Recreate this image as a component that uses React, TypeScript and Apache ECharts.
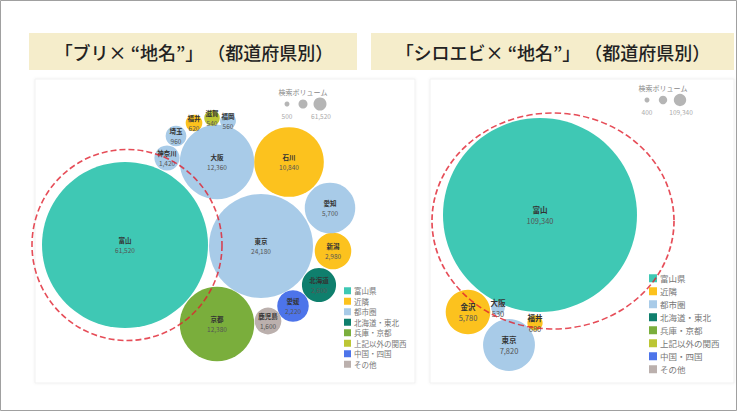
import React, { useEffect, useRef } from "react";
import * as echarts from "echarts";

// ---- data ----
const CATEGORIES = ["富山県", "近隣", "都市圏", "北海道・東北", "兵庫・京都", "上記以外の関西", "中国・四国", "その他"];

const BURI_NAMES = ["富山", "東京", "京都", "大阪", "石川", "愛知", "新潟", "北海道", "愛媛", "鹿児島", "神奈川", "埼玉", "福井", "滋賀", "福岡"];
const BURI_VALUES = [61520, 24180, 12380, 12360, 10840, 5700, 2980, 2600, 2220, 1600, 1420, 960, 620, 540, 560];
const BURI_GROUPS = ["富山県", "都市圏", "兵庫・京都", "都市圏", "近隣", "都市圏", "近隣", "北海道・東北", "中国・四国", "その他", "都市圏", "都市圏", "近隣", "上記以外の関西", "都市圏"];

const SHIRO_NAMES = ["富山", "東京", "金沢", "大阪", "福井"];
const SHIRO_VALUES = [109340, 7820, 5780, 530, 680];
const SHIRO_GROUPS = ["富山県", "都市圏", "近隣", "都市圏", "近隣"];

const BURI_LEGEND_TICKS = ["500", "61,520"];
const SHIRO_LEGEND_TICKS = ["400", "109,340"];

// ---- layout (bubble-pack positions in each panel's own units) ----
const BURI_POS = [
  [90, 165], [226, 166], [182, 244], [182, 82], [254, 82], [295, 128], [298, 171], [284, 205],
  [258, 226], [233, 241], [132, 78], [141, 56], [159, 43], [177, 38], [193, 41],
];
const SHIRO_POS = [[110, 135], [79, 265], [38, 232], [68, 228], [105, 243]];

// ---- styles ----
const COLORS: Record<string, string> = {
  "富山県": "#3fc8b4",
  "近隣": "#fcc21e",
  "都市圏": "#a8cbe8",
  "北海道・東北": "#0f7f6d",
  "兵庫・京都": "#7aae3c",
  "上記以外の関西": "#bcc634",
  "中国・四国": "#4d74ea",
  "その他": "#bbb0ad",
};
const FONT = "'Noto Sans CJK JP', 'Noto Sans', sans-serif";

function fmt(v: number) {
  return v.toLocaleString("en-US");
}

export default function App() {
  const ref = useRef<HTMLDivElement>(null);
  useEffect(() => {
    if (!ref.current) return;
    const chart = echarts.init(ref.current, undefined, { renderer: "svg" });

    const buriMax = Math.max(...BURI_VALUES);
    const shiroMax = Math.max(...SHIRO_VALUES);

    const makeSeries = (
      names: string[], values: number[], groups: string[], pos: number[][],
      idx: number, rMax: number, vMax: number, fs: number
    ) =>
      CATEGORIES.filter((c) => groups.includes(c)).map((cat) => ({
        name: cat,
        type: "scatter",
        xAxisIndex: idx,
        yAxisIndex: idx,
        z: 3,
        symbol: "circle",
        symbolSize: (val: number[]) => 2 * rMax * Math.sqrt(val[2] / vMax),
        itemStyle: { color: COLORS[cat], opacity: 1 },
        emphasis: { disabled: true },
        label: {
          show: true,
          position: "inside",
          formatter: (p: any) => `{n|${p.name}}\n{v|${fmt(p.value[2])}}`,
          rich: {
            n: { fontSize: fs, color: "#333", fontFamily: FONT, lineHeight: fs + 3, fontWeight: "bold" },
            v: { fontSize: fs, color: "#555", fontFamily: FONT, lineHeight: fs + 3 },
          },
        },
        data: names
          .map((n, i) => ({ name: n, value: [pos[i][0], pos[i][1], values[i]], g: groups[i] }))
          .filter((d) => d.g === cat)
          .map(({ name, value }) => ({ name, value })),
      }));

    const ring = (idx: number, center: number[], size: number[]) => ({
      name: "highlight" + idx,
      type: "scatter",
      xAxisIndex: idx,
      yAxisIndex: idx,
      z: 5,
      silent: true,
      symbol: "circle",
      symbolSize: size,
      itemStyle: { color: "rgba(0,0,0,0)", borderColor: "#e0202e", borderWidth: 1.6, borderType: [6, 3] },
      label: { show: false },
      data: [center],
    });

    const sizeLegend = (cx: number, cy: number, r: number[], ticks: string[]) => [
      { type: "text", x: cx, y: cy - 12, style: { text: "検索ボリューム", fill: "#888", font: `7px ${FONT}`, align: "center", verticalAlign: "middle" } },
      { type: "circle", shape: { cx: cx - 16, cy: cy, r: r[0] }, style: { fill: "#b5b5b5" } },
      { type: "circle", shape: { cx: cx, cy: cy, r: r[1] }, style: { fill: "#b5b5b5" } },
      { type: "circle", shape: { cx: cx + 17, cy: cy, r: r[2] }, style: { fill: "#b5b5b5" } },
      { type: "text", x: cx - 16, y: cy + 12, style: { text: ticks[0], fill: "#aaa", font: `6.5px ${FONT}`, align: "center", verticalAlign: "middle" } },
      { type: "text", x: cx + 18, y: cy + 12, style: { text: ticks[1], fill: "#aaa", font: `6.5px ${FONT}`, align: "center", verticalAlign: "middle" } },
    ];

    const axisCommon = { show: false, splitLine: { show: false } };

    chart.setOption({
      animation: false,
      backgroundColor: "#ffffff",
      grid: [
        { left: 35, top: 80, width: 380, height: 300 },
        { left: 430, top: 80, width: 300, height: 300 },
      ],
      xAxis: [
        { ...axisCommon, type: "value", gridIndex: 0, min: 0, max: 380 },
        { ...axisCommon, type: "value", gridIndex: 1, min: 0, max: 300 },
      ],
      yAxis: [
        { ...axisCommon, type: "value", gridIndex: 0, min: 0, max: 300, inverse: true },
        { ...axisCommon, type: "value", gridIndex: 1, min: 0, max: 300, inverse: true },
      ],
      legend: [
        {
          data: CATEGORIES, orient: "vertical", left: 339, top: 282, itemWidth: 7, itemHeight: 7, itemGap: 3,
          icon: "rect", selectedMode: false, textStyle: { fontSize: 7.5, color: "#777", fontFamily: FONT, padding: [0, 0, 0, -2] },
        },
        {
          data: CATEGORIES, orient: "vertical", left: 644, top: 269, itemWidth: 8, itemHeight: 8, itemGap: 4.5,
          icon: "rect", selectedMode: false, textStyle: { fontSize: 8.5, color: "#777", fontFamily: FONT, padding: [0, 0, 0, -2] },
        },
      ],
      graphic: [
        { type: "rect", z: -10, shape: { x: 0.5, y: 0.5, width: 736, height: 410 }, style: { fill: "#fff", stroke: "#a0a0a0", lineWidth: 1 } },
        { type: "rect", z: -9, shape: { x: 35, y: 79, width: 380, height: 304 }, style: { fill: "#fff", stroke: "#f1f1f1", lineWidth: 1, shadowBlur: 3, shadowColor: "rgba(0,0,0,0.06)" } },
        { type: "rect", z: -9, shape: { x: 430, y: 79, width: 304, height: 304 }, style: { fill: "#fff", stroke: "#f1f1f1", lineWidth: 1, shadowBlur: 3, shadowColor: "rgba(0,0,0,0.06)" } },
        { type: "rect", shape: { x: 29, y: 33, width: 328, height: 37 }, style: { fill: "#f5edcb" } },
        { type: "rect", shape: { x: 371, y: 33, width: 363, height: 37 }, style: { fill: "#f5edcb" } },
        { type: "text", x: 194, y: 52, style: { text: "「ブリ× “地名”」 （都道府県別）", fill: "#222", font: `500 18px ${FONT}`, align: "center", verticalAlign: "middle" } },
        { type: "text", x: 553, y: 52, style: { text: "「シロエビ× “地名”」 （都道府県別）", fill: "#222", font: `500 18px ${FONT}`, align: "center", verticalAlign: "middle" } },
        ...sizeLegend(303, 104, [2.5, 4.5, 6.5], BURI_LEGEND_TICKS),
        ...sizeLegend(663, 100, [2.5, 4.2, 6.2], SHIRO_LEGEND_TICKS),
      ],
      series: [
        ...makeSeries(BURI_NAMES, BURI_VALUES, BURI_GROUPS, BURI_POS, 0, 83, buriMax, 6.5),
        ...makeSeries(SHIRO_NAMES, SHIRO_VALUES, SHIRO_GROUPS, SHIRO_POS, 1, 97, shiroMax, 7.5),
        ring(0, [92, 165], [190, 191]),
        ring(1, [123, 141], [242, 216]),
      ],
    });
    return () => chart.dispose();
  }, []);
  return <div ref={ref} style={{ position: "fixed", left: 0, top: 0, width: 743, height: 415 }} />;
}
